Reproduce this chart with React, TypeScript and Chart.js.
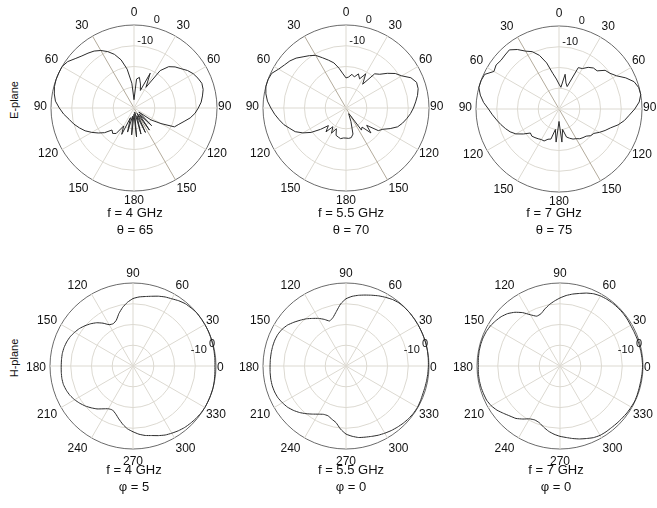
import React, { useEffect, useRef } from 'react';
import { Chart, registerables } from 'chart.js';

Chart.register(...registerables);

// angle categories (degrees), 5 degree steps
const ANGLES = [
  0, 5, 10, 15, 20, 25, 30, 35, 40, 45, 50, 55, 60, 65, 70, 75, 80, 85,
  90, 95, 100, 105, 110, 115, 120, 125, 130, 135, 140, 145, 150, 155, 160, 165, 170, 175,
  180, 185, 190, 195, 200, 205, 210, 215, 220, 225, 230, 235, 240, 245, 250, 255, 260, 265,
  270, 275, 280, 285, 290, 295, 300, 305, 310, 315, 320, 325, 330, 335, 340, 345, 350, 355,
];

// E-plane (theta clockwise from top), dB
const E_4GHZ = [
  -36, -26, -25, -28, -31, -21.5, -28.5, -18, -14, -12, -10.5, -8.5, -7, -6, -5.2, -5.5, -6.5, -7.5,
  -9, -10.5, -12.5, -15, -17, -18.5, -25, -30, -37, -28, -36, -27, -37, -27, -36, -27, -38, -26,
  -37, -27, -36, -28, -35, -26, -30, -25, -24, -25, -21.5, -19, -16.5, -14, -12, -10, -8.3, -6,
  -4, -2, -1, -0.3, 0, 0, 0, -1, -3, -4.5, -5.5, -6.5, -8, -10, -12.5, -16, -21, -28,
];
const E_5_5GHZ = [
  -25.5, -25, -23.5, -24.5, -22.5, -24.5, -21, -26, -18.5, -17, -14, -11, -9, -5.5, -3.8, -4, -5, -6.3,
  -7.5, -8.8, -10.3, -11.8, -13.5, -16.5, -19.5, -21, -27, -23, -28, -27, -36, -37, -33, -27, -25.5, -25.3,
  -25.5, -25.5, -25, -25.5, -26, -29, -26, -29, -25, -28, -24, -19.5, -16, -13, -11.2, -9, -7.3, -5.5,
  -3.8, -2, -0.8, 0, 0, -0.5, -2.5, -3.8, -4.7, -6, -7.8, -9.2, -10.7, -13.3, -15.5, -17.5, -20.5, -23.5,
];
const E_7GHZ = [
  -28, -29.5, -23, -27, -28.5, -18, -17.5, -15.5, -14.2, -14, -11, -10, -8, -4.5, -1.5, -0.2, 0, -1.2,
  -3.5, -6, -8, -10.5, -13.5, -15.5, -17.5, -19.5, -20, -21.5, -22, -22.5, -23.5, -24, -25, -26, -30, -24,
  -34, -24, -30, -25, -24.5, -23, -23, -22.5, -22, -21.5, -22, -19, -16, -14, -12.5, -11, -9.5, -7.8,
  -6, -3.5, -1.5, 0, 0, -0.5, -3.8, -3, -3.5, -3.2, -2.8, -5, -7.8, -9.5, -12.5, -17, -22.5, -25.5,
];

// H-plane (phi counter-clockwise from right), dB
const H_4GHZ = [
  -0.5, -0.4, -0.3, -0.2, -0.1, 0, 0, 0, 0, -0.4, -0.8, -1.6, -2.6, -3.3, -4.2, -5.2, -6, -6.6,
  -7.5, -9.2, -11.3, -13.8, -16.5, -17.5, -17, -14.8, -12.8, -11.2, -9.8, -8.5, -7.5, -6.6, -6, -5.6, -5.4, -5.4,
  -5.4, -5.3, -5.2, -5.3, -5.8, -6.5, -7.5, -8.7, -10, -11.5, -13, -14.8, -16.2, -16.6, -15.5, -13.6, -11.5, -9.6,
  -8.3, -7, -6, -5.3, -4.3, -3.3, -2.6, -1.9, -1.3, -0.9, -0.5, -0.2, 0, 0, 0, 0, -0.2, -0.4,
];
const H_5_5GHZ = [
  -0.3, -0.2, -0.1, 0, 0, 0, 0, 0, 0, -0.1, -0.3, -0.9, -1.8, -2.7, -3.7, -4.6, -5.4, -6.3,
  -7.6, -10, -13.3, -15.8, -16.9, -15.2, -13.5, -12, -10.3, -8.8, -7.2, -5.6, -4.5, -3.8, -3.5, -3.4, -3.4, -3.4,
  -3.4, -3.3, -3.2, -3.2, -3.4, -3.8, -4.6, -5.5, -6.8, -8.3, -10, -11.7, -13.2, -14.3, -14.5, -13.5, -12.3, -9.5,
  -7.2, -6, -5, -4.5, -3.9, -3.2, -2.6, -2, -1.5, -1, -0.6, -0.3, -0.2, -0.4, -0.6, -0.6, -0.5, -0.4,
];
const H_7GHZ = [
  -0.2, -0.3, -0.4, -0.5, -0.6, -0.7, -0.7, -0.5, -0.4, -0.4, -0.5, -0.7, -1, -1.6, -2.6, -3.8, -4.8, -5.9,
  -7.2, -8.6, -10, -11.6, -13.2, -13.5, -11.5, -8.6, -6.2, -4.3, -3, -2.1, -1.3, -0.8, -0.5, -0.4, -0.4, -0.5,
  -0.6, -0.5, -0.5, -0.6, -0.8, -1, -1.7, -2.9, -4.5, -5.9, -7, -8.8, -10.6, -11.3, -10.9, -9.5, -8.1, -7,
  -6.1, -5.4, -4.5, -3.6, -2.8, -1.9, -1.4, -1.3, -1.3, -1.1, -0.9, -0.6, -0.4, -0.2, -0.3, -0.4, -0.4, -0.3,
];

const RING_VALUES = [0, -10];
const RING_TEXT = ['0', '-10'];

const FONT = 'Arial, "Liberation Sans", sans-serif';
const CANVAS = 212;
const PAD = 23;
const HALF = 106;

const GRID_LIGHT = '#dcd9d1';
const GRID_DARK_SPOKE = '#b3ab9c';
const OUTER = '#6a6a6a';
const CURVE = '#2b2b2b';

const polarTextPlugin = {
  id: 'polarText',
  afterDraw(chart: any, _args: any, opts: any) {
    const s = chart.scales.r;
    const ctx = chart.ctx;
    const isE = opts.plane === 'E';
    const bias = isE ? -1 : 1.5;
    ctx.save();
    ctx.fillStyle = '#111';
    ctx.textBaseline = 'middle';
    ctx.font = '12px ' + FONT;
    (chart.data.labels as number[]).forEach((a, i) => {
      if (a % 30 !== 0) return;
      const txt = isE ? String(a <= 180 ? a : 360 - a) : String(a);
      const p = s.getPointPosition(i, s.drawingArea);
      const ux = (p.x - s.xCenter) / s.drawingArea;
      const uy = (p.y - s.yCenter) / s.drawingArea;
      let x = p.x;
      if (Math.abs(ux) < 0.02) {
        ctx.textAlign = 'center';
      } else if (ux > 0) {
        ctx.textAlign = 'left';
        x = p.x + 1;
      } else {
        ctx.textAlign = 'right';
        x = p.x - 4;
      }
      const y = p.y + uy * 11 + bias;
      ctx.fillText(txt, x, y);
    });
    ctx.textAlign = 'center';
    ctx.font = '11px ' + FONT;
    RING_VALUES.forEach((v, k) => {
      let extra: number;
      let ang: number;
      if (isE) {
        extra = k === 0 ? 8 : 5.5;
        ang = k === 0 ? 14.5 : 9.5;
      } else {
        extra = k === 0 ? -1 : 5.5;
        ang = k === 0 ? -15.5 : -13.7;
      }
      const p = s.getPointPosition(0, s.getDistanceFromCenterForValue(v) + extra, (ang * Math.PI) / 180);
      ctx.fillText(RING_TEXT[k], p.x, p.y);
    });
    ctx.restore();
  },
};

type PlotProps = { values: number[]; plane: 'E' | 'H'; cx: number; cy: number };

function PolarPlot({ values, plane, cx, cy }: PlotProps) {
  const ref = useRef<HTMLCanvasElement>(null);
  useEffect(() => {
    const isE = plane === 'E';
    const labels = ANGLES.map((a, i) => (isE ? a : ANGLES[(72 - i) % 72]));
    const data = labels.map((a) => values[ANGLES.indexOf(a)]);
    const chart = new Chart(ref.current as HTMLCanvasElement, {
      type: 'radar',
      data: {
        labels,
        datasets: [
          {
            data,
            borderColor: CURVE,
            borderWidth: 1,
            pointRadius: 0,
            pointHoverRadius: 0,
            fill: false,
            tension: isE ? 0 : 0.15,
          },
        ],
      },
      options: {
        responsive: false,
        animation: false,
        devicePixelRatio: 1,
        events: [],
        layout: { padding: PAD },
        plugins: {
          legend: { display: false },
          tooltip: { enabled: false },
          title: { display: false },
          polarText: { plane },
        } as any,
        scales: {
          r: {
            min: -40,
            max: 0,
            startAngle: isE ? 0 : 90,
            ticks: { display: false, stepSize: 10 },
            pointLabels: { display: false },
            grid: {
              circular: true,
              lineWidth: 1,
              color: (c: any) =>
                c.tick && c.tick.value === 0 ? OUTER : c.tick && c.tick.value === -40 ? 'rgba(0,0,0,0)' : GRID_LIGHT,
            },
            angleLines: {
              display: true,
              lineWidth: 1,
              color: (c: any) => {
                const i = c.index;
                if (i % 6 !== 0) return 'rgba(0,0,0,0)';
                if (isE && (i === 30 || i === 66)) return GRID_DARK_SPOKE;
                return GRID_LIGHT;
              },
            },
          },
        } as any,
      },
      plugins: [polarTextPlugin],
    });
    return () => chart.destroy();
  }, [values, plane]);
  return (
    <canvas
      ref={ref}
      width={CANVAS}
      height={CANVAS}
      style={{ position: 'absolute', left: cx - HALF, top: cy - HALF, width: CANVAS, height: CANVAS }}
    />
  );
}

function Caption({ x, y, lines }: { x: number; y: number; lines: string[] }) {
  return (
    <>
      {lines.map((t, k) => (
        <div
          key={k}
          style={{
            position: 'absolute',
            left: x - 70,
            width: 140,
            top: y + k * 16.7 - 8,
            height: 16,
            lineHeight: '16px',
            textAlign: 'center',
            fontSize: 13,
            color: '#111',
            whiteSpace: 'nowrap',
          }}
        >
          {t}
        </div>
      ))}
    </>
  );
}

function SideLabel({ x, y, text }: { x: number; y: number; text: string }) {
  return (
    <div
      style={{
        position: 'absolute',
        left: x,
        top: y,
        transform: 'translate(-50%, -50%) rotate(-90deg)',
        fontSize: 11,
        color: '#111',
        whiteSpace: 'nowrap',
        lineHeight: '12px',
      }}
    >
      {text}
    </div>
  );
}

export default function App() {
  return (
    <div
      style={{
        position: 'absolute',
        left: 0,
        top: 0,
        width: 657,
        height: 508,
        overflow: 'hidden',
        background: '#ffffff',
        fontFamily: FONT,
      }}
    >
      <PolarPlot values={E_4GHZ} plane="E" cx={134} cy={108} />
      <PolarPlot values={E_5_5GHZ} plane="E" cx={346} cy={108} />
      <PolarPlot values={E_7GHZ} plane="E" cx={559} cy={109} />
      <PolarPlot values={H_4GHZ} plane="H" cx={133} cy={366} />
      <PolarPlot values={H_5_5GHZ} plane="H" cx={346} cy={366} />
      <PolarPlot values={H_7GHZ} plane="H" cx={560} cy={366} />

      <Caption x={135} y={213.3} lines={['f = 4 GHz', 'θ = 65']} />
      <Caption x={351} y={213.3} lines={['f = 5.5 GHz', 'θ = 70']} />
      <Caption x={554} y={213.3} lines={['f = 7 GHz', 'θ = 75']} />
      <Caption x={134} y={470} lines={['f = 4 GHz', 'φ = 5']} />
      <Caption x={351} y={470} lines={['f = 5.5 GHz', 'φ = 0']} />
      <Caption x={556} y={470} lines={['f = 7 GHz', 'φ = 0']} />

      <SideLabel x={14} y={100} text="E-plane" />
      <SideLabel x={14} y={358} text="H-plane" />
    </div>
  );
}
